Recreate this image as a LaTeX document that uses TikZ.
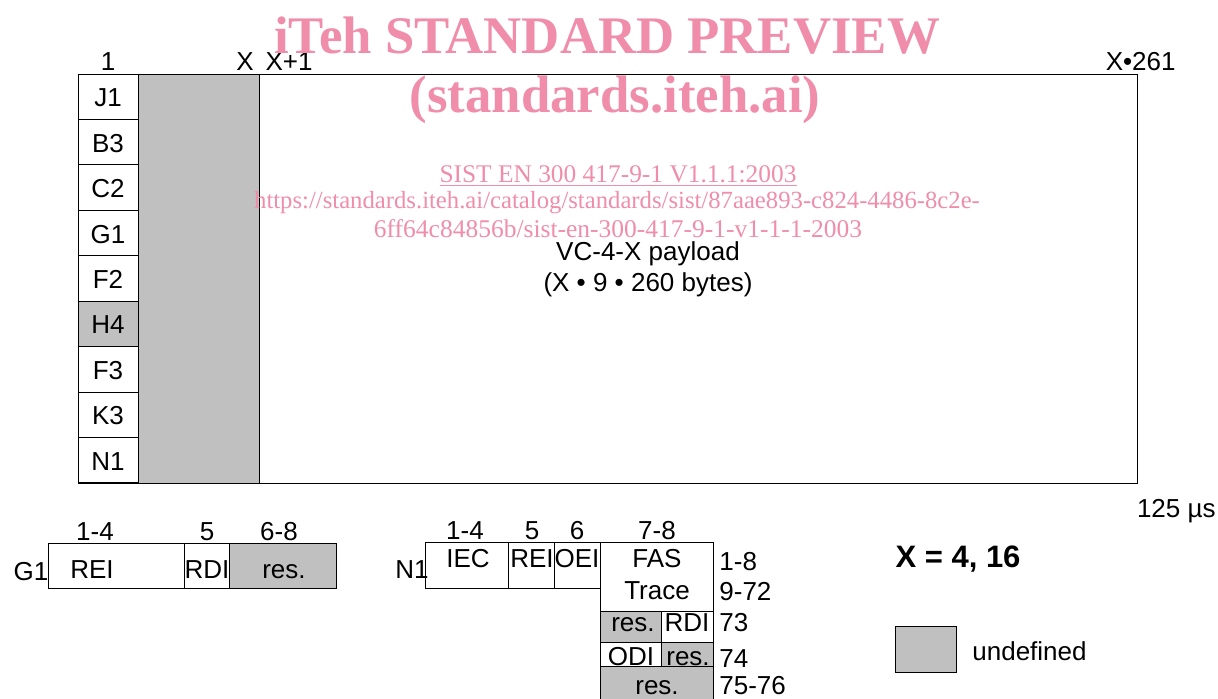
\documentclass[tikz,border=0pt]{standalone}
\usepackage{fontspec}
\setmainfont{Liberation Sans}
\newfontfamily\wmfont{Liberation Serif}
\usetikzlibrary{calc}

\definecolor{undefgray}{RGB}{192,192,192}
\definecolor{itehpink}{RGB}{239,141,170}

\begin{document}
\begin{tikzpicture}[x=0.5pt,y=-0.5pt,
  every node/.style={inner sep=0pt, font=\fontsize{13}{15}\selectfont},
  box/.style={draw, line width=0.5pt},
  grey/.style={box, fill=undefgray},
  wm/.style={text=itehpink, font=\wmfont\fontsize{13}{15}\selectfont}]
  \clip (0,0) rectangle (1218,698);
  \def\rh{45.44}

  % VC-4-X frame
  \draw[grey] (138,74) rectangle (259,483);
  \draw[box] (78,74) rectangle (1137,483);
  \fill[undefgray] (78,{74+5*\rh}) rectangle (138,{74+6*\rh}); % H4
  \foreach \lab [count=\i] in {J1,B3,C2,G1,F2,H4,F3,K3,N1}
    \draw[box] (78,{74+(\i-1)*\rh}) rectangle (138,{74+\i*\rh})
      node[anchor=base] (oh\lab) at (108,{74+(\i-0.5)*\rh+10}) {\lab};

  % column numbers
  \node[anchor=base] (colOne) at (108,70.5) {1};
  \node[anchor=base] (colX) at (245,70.5) {X};
  \node[anchor=base] (colXp) at (289,70.5) {X+1};
  \node[anchor=base east] (colEnd) at (1176,70.5) {X•261};
  \node[anchor=base east] (period) at (1216,517) {125 µs};

  % G1 byte
  \draw[box] (48,543) rectangle (184,588);
  \draw[box] (184,543) rectangle (229,588);
  \draw[grey] (229,543) rectangle (336,588);
  \node[anchor=base] (gName) at (31,580) {G1};
  \node[anchor=base] (gBitA) at (95,540) {1-4};
  \node[anchor=base] (gBitB) at (207,540) {5};
  \node[anchor=base] (gBitC) at (279,540) {6-8};
  \node[anchor=base] (gRei) at (92,578) {REI};
  \node[anchor=base] (gRdi) at (207,578) {RDI};
  \node[anchor=base] (gRes) at (284,578) {res.};

  % N1 byte
  \draw[box] (425,542) rectangle (508,588);
  \draw[box] (508,542) rectangle (554,588);
  \draw[box] (554,542) rectangle (600,588);
  \draw[box] (600,542) rectangle (713,611);
  \draw[grey] (600,611) rectangle (661,642);
  \draw[box] (661,611) rectangle (713,642);
  \draw[box] (600,642) rectangle (661,666);
  \draw[grey] (661,642) rectangle (713,666);
  \draw[grey] (600,666) rectangle (713,710);
  \node[anchor=base] (nName) at (412,578) {N1};
  \node[anchor=base] (nBitA) at (465,539) {1-4};
  \node[anchor=base] (nBitB) at (532,539) {5};
  \node[anchor=base] (nBitC) at (577,539) {6};
  \node[anchor=base] (nBitD) at (657,539) {7-8};
  \node[anchor=base] (nIec) at (468,567) {IEC};
  \node[anchor=base] (nRei) at (532,567) {REI};
  \node[anchor=base] (nOei) at (577,567) {OEI};
  \node[anchor=base] (nFas) at (657,567) {FAS};
  \node[anchor=base] (nTrace) at (657,599) {Trace};
  \node[anchor=base] (nResA) at (633,631) {res.};
  \node[anchor=base] (nRdi) at (687,631) {RDI};
  \node[anchor=base] (nOdi) at (631,665) {ODI};
  \node[anchor=base] (nResB) at (688,665) {res.};
  \node[anchor=base] (nResC) at (657,694) {res.};
  \foreach \fr/\y [count=\k] in {1-8/570, 9-72/600, 73/631, 74/667, 75-76/694}
    \node[anchor=base west] (fr\k) at (719,\y) {\fr};

  % legend
  \node[anchor=base, font=\bfseries\fontsize{15.5}{18}\selectfont] (xval) at (958,567) {X = 4, 16};
  \draw[grey] (895,626) rectangle (956,672);
  \node[anchor=base west] (legend) at (972,660) {undefined};

  % watermark
  \node[wm, anchor=base, font=\wmfont\bfseries\fontsize{26.4}{30}\selectfont] (wmTitle) at (607,53) {iTeh STANDARD PREVIEW};
  \node[wm, anchor=base, font=\wmfont\bfseries\fontsize{26.4}{30}\selectfont] (wmSite) at (615,112) {(standards.iteh.ai)};
  \node[wm, anchor=base, font=\wmfont\fontsize{12.7}{15}\selectfont] (wmDoc) at (618,182) {\underline{SIST EN 300 417-9-1 V1.1.1:2003}};
  \node[wm, anchor=base, font=\wmfont\fontsize{12.35}{15}\selectfont] (wmUrl) at (617,208) {https://standards.iteh.ai/catalog/standards/sist/87aae893-c824-4486-8c2e-};
  \node[wm, anchor=base, font=\wmfont\fontsize{12.75}{15}\selectfont] (wmUrlB) at (618,237) {6ff64c84856b/sist-en-300-417-9-1-v1-1-1-2003};

  % payload
  \node[anchor=base] (payload) at (648,260) {VC-4-X payload};
  \node[anchor=base] (payloadSize) at (648,291) {(X • 9 • 260 bytes)};
\end{tikzpicture}
\end{document}
